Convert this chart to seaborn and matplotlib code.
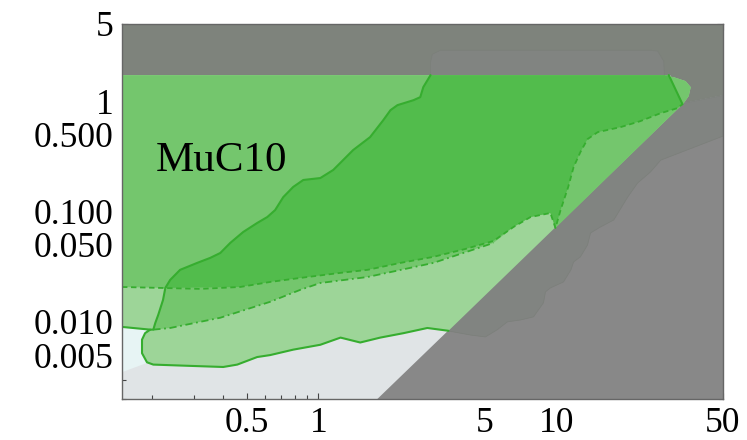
import matplotlib
matplotlib.use("Agg")
import matplotlib.pyplot as plt
import seaborn as sns
from matplotlib.ticker import FixedLocator, LogLocator, NullFormatter

# ---------------- data ----------------
x_ticks = [0.5, 1, 5, 10, 50]
x_tick_labels = ["0.5", "1", "5", "10", "50"]
y_ticks = [0.005, 0.010, 0.050, 0.100, 0.500, 1, 5]
y_tick_labels = ["0.005", "0.010", "0.050", "0.100", "0.500", "1", "5"]

# excluded grey band on top
band_x = [0.15, 0.15, 50, 50, 34.2, 30.0]
band_y = [1.72, 5, 5, 1.13, 0.959, 1.72]
# excluded grey triangle lower right
lowgray_x = [1.77, 50, 50, 34.2]
lowgray_y = [0.002, 0.002, 1.13, 0.959]
# semi-transparent grey region with wavy edge
over_x = [3.48, 4.35, 5.03, 5.65, 6.22, 7.06, 8.01, 8.82, 8.99, 9.43, 10.7, 11.5,
          11.8, 12.6, 13.5, 13.9, 15.3, 17.4, 19.9, 21.9, 24.8, 27.4, 50, 50, 34.2,
          28.7, 28.2, 26.6, 24.8, 3.26, 3.01, 2.96, 2.96, 3.26]
over_y = [0.0083, 0.0076, 0.0073, 0.0085, 0.0100, 0.0104, 0.0111, 0.0149, 0.0187,
          0.0203, 0.0230, 0.0296, 0.0349, 0.0388, 0.0497, 0.0639, 0.0724, 0.0838,
          0.135, 0.181, 0.228, 0.292, 0.482, 1.13, 0.959, 1.02, 2.30, 2.84, 2.89,
          2.89, 2.66, 2.25, 1.55, 0.127]
# pale cyan patch bottom-left
cyan_x = [0.15, 0.217, 0.217, 0.15]
cyan_y = [0.0035, 0.0047, 0.0104, 0.0104]
# outer (lightest) green region
la_x = [0.15, 0.15, 0.191, 0.1875, 0.182, 0.182, 0.191, 0.203, 0.282, 0.399, 0.457,
        0.554, 0.628, 0.785, 1.02, 1.24, 1.50, 1.82, 2.28, 2.87, 3.52, 34.2, 35.9,
        36.6, 34.8, 31.0, 27.4]
la_y = [1.72, 0.0090, 0.0085, 0.0079, 0.0069, 0.0052, 0.0043, 0.0041, 0.0040, 0.0039,
        0.0041, 0.0048, 0.0050, 0.0056, 0.0062, 0.0072, 0.0065, 0.0072, 0.0079,
        0.0088, 0.0083, 0.959, 1.11, 1.34, 1.52, 1.65, 1.72]
# medium green region
m_x = [0.15, 27.4, 31.0, 34.8, 36.6, 35.9, 34.2, 9.90, 9.43, 7.78, 6.60, 5.44, 3.04,
       1.61, 1.02, 0.84, 0.628, 0.388, 0.319, 0.239, 0.203, 0.207, 0.213, 0.223,
       0.228, 0.15]
m_y = [1.72, 1.72, 1.65, 1.52, 1.34, 1.11, 0.959, 0.0709, 0.0969, 0.0891, 0.0724,
       0.0519, 0.0342, 0.0255, 0.0225, 0.0195, 0.0152, 0.0109, 0.0100, 0.0088,
       0.0085, 0.0098, 0.0116, 0.0158, 0.0203, 0.0207]
# dark green core (solid upper-left edge, dashed lower edge)
solid_up_x = [0.228, 0.239, 0.263, 0.310, 0.352, 0.388, 0.427, 0.484, 0.554, 0.611,
              0.659, 0.713, 0.785, 0.865, 1.02, 1.156, 1.40, 1.65, 1.875, 2.01, 2.15,
              2.51, 2.68, 2.76, 2.96]
solid_up_y = [0.0203, 0.0240, 0.0296, 0.0342, 0.0380, 0.0421, 0.0519, 0.0652, 0.0787,
              0.0891, 0.103, 0.135, 0.167, 0.193, 0.201, 0.238, 0.360, 0.472, 0.673,
              0.829, 0.920, 1.02, 1.087, 1.34, 1.72]
solid_right_x = [29.6, 33.8]
solid_right_y = [1.72, 0.939]
dash_up_x = [0.15, 0.319, 0.470, 0.628, 0.84, 1.24, 1.61, 2.21, 3.04, 4.15, 5.44,
             6.60, 7.78, 9.43, 9.90, 10.4, 11.2, 11.8, 12.6, 13.5, 14.9, 18.6, 22.5,
             27.4, 32.2, 33.8]
dash_up_y = [0.0207, 0.0199, 0.0207, 0.0230, 0.0250, 0.0278, 0.0296, 0.0342, 0.0388,
             0.0458, 0.0541, 0.0724, 0.0891, 0.0969, 0.0709, 0.103, 0.167, 0.253,
             0.3455, 0.453, 0.524, 0.582, 0.659, 0.779, 0.864, 0.939]
dash_low_x = [0.203, 0.239, 0.319, 0.388, 0.628, 0.84, 1.02, 1.61, 3.04, 5.44]
dash_low_y = [0.0085, 0.0088, 0.0100, 0.0109, 0.0152, 0.0195, 0.0225, 0.0255, 0.0342,
              0.0519]
# solid outline of the lower region
solid_low_x = [3.52, 2.87, 2.28, 1.82, 1.50, 1.24, 1.02, 0.785, 0.628, 0.554, 0.457,
               0.399, 0.282, 0.203, 0.191, 0.182, 0.182, 0.1875, 0.197, 0.203, 0.207,
               0.213, 0.223, 0.228]
solid_low_y = [0.0083, 0.0088, 0.0079, 0.0072, 0.0065, 0.0072, 0.0062, 0.0056, 0.0050,
               0.0048, 0.0041, 0.0039, 0.0040, 0.0041, 0.0043, 0.0052, 0.0069, 0.0079,
               0.0085, 0.0085, 0.0098, 0.0116, 0.0158, 0.0203]
solid_left_x = [0.15, 0.197]
solid_left_y = [0.0090, 0.0085]

label_text = "MuC10"
label_x, label_y = 0.207, 0.233

# ---------------- styling ----------------
sns.set_theme(style="ticks")
plt.rcParams["font.family"] = ["Liberation Serif", "DejaVu Serif"]

fig = plt.figure(figsize=(7.47, 4.40), dpi=100)
ax = fig.add_axes([122 / 747, 1 - 399 / 440, (723 - 122) / 747, (399 - 24) / 440])
ax.set_xscale("log")
ax.set_yscale("log")
ax.set_xlim(0.15, 50)
ax.set_ylim(0.002, 5)
ax.set_facecolor("#e0e4e6")

ax.fill(band_x, band_y, color="#7e837c", lw=0, zorder=1)
ax.fill(lowgray_x, lowgray_y, color="#888888", lw=0, zorder=1)
ax.fill(over_x, over_y, facecolor="#818481", edgecolor="#7b7f7a", lw=0.5, zorder=2)
ax.fill(cyan_x, cyan_y, color="#e7f4f4", lw=0, zorder=2)

ax.fill(la_x, la_y, color="#9dd598", lw=0, zorder=3)
ax.fill(m_x, m_y, color="#74c66d", lw=0, zorder=4)

dark_x = solid_up_x + [29.6, 33.8] + dash_up_x[::-1][:-2]
dark_y = solid_up_y + [1.72, 0.939] + dash_up_y[::-1][:-2]
ax.fill(dark_x, dark_y, color="#52bc4c", lw=0, zorder=5)

line_col = "#36ad2f"
kw = dict(sort=False, estimator=None, color=line_col, ax=ax, zorder=6, legend=False)
sns.lineplot(x=solid_low_x + solid_up_x[1:], y=solid_low_y + solid_up_y[1:], lw=1.5, **kw)
sns.lineplot(x=solid_left_x, y=solid_left_y, lw=1.5, **kw)
sns.lineplot(x=solid_right_x, y=solid_right_y, lw=1.5, **kw)
sns.lineplot(x=dash_up_x, y=dash_up_y, lw=1.3, linestyle=(0, (3, 2)), **kw)
sns.lineplot(x=dash_low_x, y=dash_low_y, lw=1.3, linestyle=(0, (4, 2, 1, 2)), **kw)

ax.text(label_x, label_y, label_text, fontsize=31, ha="left", va="baseline",
        color="black", zorder=7, family=["Liberation Serif"])

# ticks
ax.xaxis.set_major_locator(FixedLocator(x_ticks))
ax.set_xticklabels(x_tick_labels)
ax.xaxis.set_minor_locator(LogLocator(base=10, subs=range(2, 10), numticks=20))
ax.xaxis.set_minor_formatter(NullFormatter())
ax.yaxis.set_major_locator(FixedLocator(y_ticks))
ax.set_yticklabels(y_tick_labels)
ax.yaxis.set_minor_locator(LogLocator(base=10, subs=range(2, 10), numticks=20))
ax.yaxis.set_minor_formatter(NullFormatter())
ax.tick_params(which="both", direction="in", top=True, right=True, colors="#444444",
               labelcolor="black", labelsize=25.5, pad=6, width=0.8)
ax.tick_params(which="major", length=4)
ax.tick_params(which="minor", length=3)
for s in ax.spines.values():
    s.set_color("#666666")
    s.set_linewidth(1.0)
    s.set_zorder(8)
ax.set_xlabel("")
ax.set_ylabel("")

fig.savefig("out.png", dpi=100)
